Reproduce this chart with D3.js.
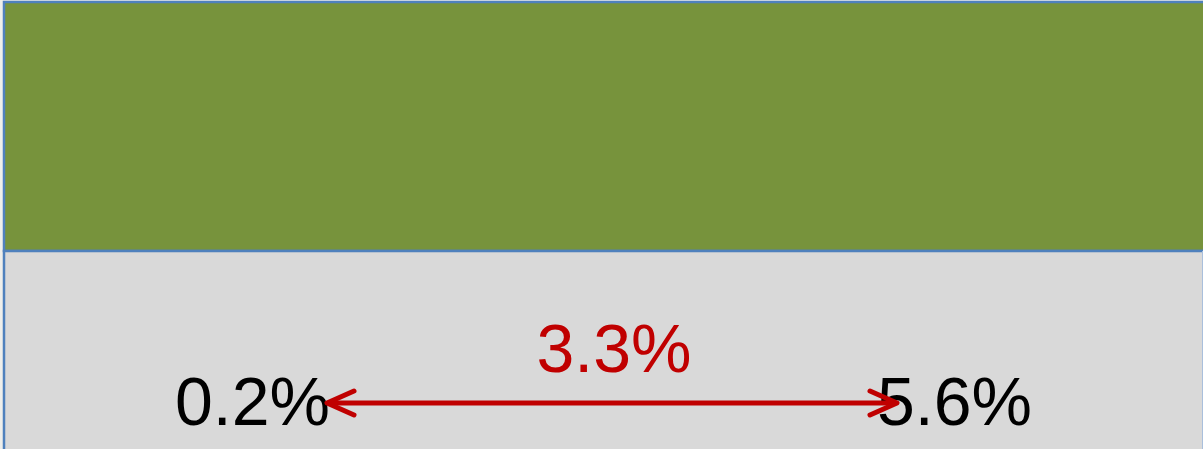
<!DOCTYPE html>
<html><head><meta charset="utf-8">
<script src="https://cdn.jsdelivr.net/npm/d3@7"></script>
<style>html,body{margin:0;padding:0;background:#efefeb;overflow:hidden}</style>
</head><body>
<svg id="c" width="1203" height="449"></svg>
<script>
const categories = ["bar"];
const segments = ["upper", "lower"];
const segmentValues = [50, 50];
const segmentColors = ["#77933c", "#d9d9d9"];
const leftLabel = "0.2%";
const rightLabel = "5.6%";
const diffLabel = "3.3%";

const svg = d3.select("#c");
const x = d3.scaleBand().domain(categories).range([4, 1210]).padding(0);
const y = d3.scaleLinear().domain([0, 100]).range([500, 2]);

let acc = 100;
const stacked = segments.map((s, i) => {
  const top = acc; acc -= segmentValues[i];
  return {name: s, y0: acc, y1: top, color: segmentColors[i]};
});

svg.selectAll("rect.seg").data(stacked).join("rect")
  .attr("class", "seg")
  .attr("x", x("bar"))
  .attr("width", x.bandwidth())
  .attr("y", d => y(d.y1))
  .attr("height", d => y(d.y0) - y(d.y1))
  .attr("fill", d => d.color)
  .attr("stroke", "#4f81bd")
  .attr("stroke-width", 2.5);

// right edge faint line
svg.append("line").attr("x1", 1202.5).attr("x2", 1202.5).attr("y1", y(50)).attr("y2", 449)
  .attr("stroke", "#a9bfdc").attr("stroke-width", 1);

const fontFam = "'Liberation Sans', Arial, sans-serif";
const baseY = 425;
svg.append("text").attr("x", 175).attr("y", baseY).text(leftLabel)
  .attr("font-family", fontFam).attr("font-size", 68).attr("fill", "#000");
svg.append("text").attr("x", 877).attr("y", baseY).text(rightLabel)
  .attr("font-family", fontFam).attr("font-size", 68).attr("fill", "#000");
svg.append("text").attr("x", 614).attr("y", 372).attr("text-anchor", "middle").text(diffLabel)
  .attr("font-family", fontFam).attr("font-size", 68).attr("fill", "#c00000");

const red = "#c00000";
const ay = 403, ax1 = 327, ax2 = 897;
svg.append("line").attr("x1", ax1 + 2).attr("x2", ax2 - 2).attr("y1", ay).attr("y2", ay)
  .attr("stroke", red).attr("stroke-width", 5);
svg.append("path").attr("d", `M${ax1 + 27},${ay - 12} L${ax1},${ay} L${ax1 + 27},${ay + 12}`)
  .attr("fill", "none").attr("stroke", red).attr("stroke-width", 5).attr("stroke-linecap", "round").attr("stroke-linejoin", "round");
svg.append("path").attr("d", `M${ax2 - 27},${ay - 12} L${ax2},${ay} L${ax2 - 27},${ay + 12}`)
  .attr("fill", "none").attr("stroke", red).attr("stroke-width", 5).attr("stroke-linecap", "round").attr("stroke-linejoin", "round");
</script>
</body></html>
